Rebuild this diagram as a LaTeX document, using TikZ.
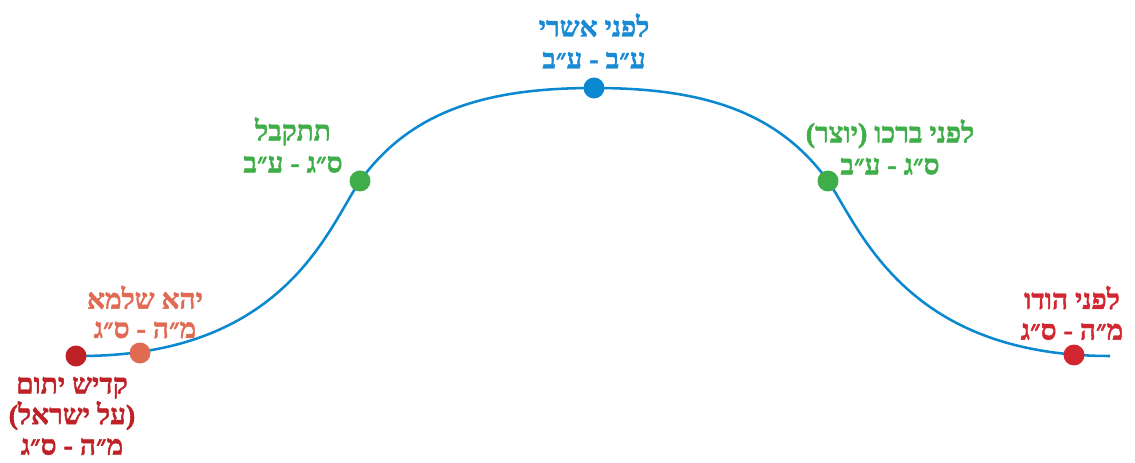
\documentclass[tikz,border=0pt]{standalone}
\usepackage{fontspec}
\newfontfamily\hebfont[Script=Hebrew, BoldFeatures={FakeBold=1.5}]{Liberation Serif}
\TeXXeTstate=1
\definecolor{lineblue}{HTML}{0A88D0}
\definecolor{textblue}{HTML}{1A8AD4}
\definecolor{hgreen}{HTML}{3FAE49}
\definecolor{horange}{HTML}{E06B52}
\definecolor{darkred}{HTML}{BE2227}
\definecolor{hred}{HTML}{D22630}
\begin{document}
\begin{tikzpicture}[x=0.75pt,y=-0.75pt,
  lbl/.style={font=\hebfont\bfseries\fontsize{21}{24}\selectfont, align=center, inner sep=0pt},
  dot/.style={circle, minimum size=15.75pt, inner sep=0pt},
  curve/.style={draw=lineblue, line width=1.9pt}]
\useasboundingbox (0,0) rectangle (1135,463);
\coordinate (S) at (80,356);
\coordinate (G1c) at (360,181);
\coordinate (Tc) at (594,88);
\coordinate (G2c) at (828,181);
\coordinate (E) at (1110,356);
\draw[curve] (S) .. controls (285,356) and (328,228) .. (G1c)
  .. controls (412,109) and (490,88) .. (Tc)
  .. controls (698,88) and (776,109) .. (G2c)
  .. controls (860,228) and (905,356) .. (E);
\node[dot, fill=darkred] (d1) at (76,356) {};
\node[dot, fill=horange] (d2) at (140,353) {};
\node[dot, fill=hgreen] (d3) at (G1c) {};
\node[dot, fill=lineblue] (d4) at (Tc) {};
\node[dot, fill=hgreen] (d5) at (G2c) {};
\node[dot, fill=hred] (d6) at (1074,355) {};
\node[lbl, text=textblue] (l4) at (594,41) {\beginR לפני אשרי\endR\\\beginR ע״ב - ע״ב\endR};
\node[lbl, text=hgreen] (l3) at (293,145) {\beginR תתקבל\endR\\\beginR ס״ג - ע״ב\endR};
\node[lbl, text=hgreen] (l5) at (890,147) {\beginR לפני ברכו (יוצר)\endR\\\beginR ס״ג - ע״ב\endR};
\node[lbl, text=horange, font=\hebfont\bfseries\fontsize{21}{22}\selectfont] (l2) at (145,312) {\beginR יהא שלמא\endR\\\beginR מ״ה - ס״ג\endR};
\node[lbl, text=hred, font=\hebfont\bfseries\fontsize{21}{23}\selectfont] (l6) at (1072,313) {\beginR לפני הודו\endR\\\beginR מ״ה - ס״ג\endR};
\node[lbl, text=darkred, font=\hebfont\bfseries\fontsize{21}{23}\selectfont] (l1) at (72,416) {\beginR קדיש יתום\endR\\\beginR (על ישראל)\endR\\\beginR מ״ה - ס״ג\endR};
\end{tikzpicture}
\end{document}
